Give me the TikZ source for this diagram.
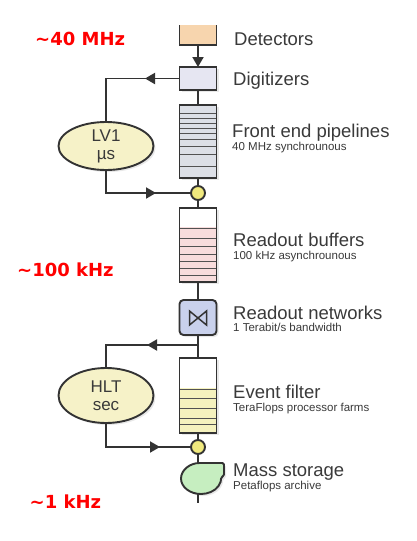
\documentclass[tikz,border=0pt]{standalone}
\usepackage{fontspec}
\setmainfont{Liberation Sans}
\newfontfamily\redfont{DejaVu Sans}
\usetikzlibrary{arrows.meta,shadows,shapes.geometric}
\definecolor{ln}{HTML}{333333}
\definecolor{txt}{HTML}{3A3A3A}
\definecolor{peach}{HTML}{F7D5AE}
\definecolor{lav}{HTML}{E6E6F2}
\definecolor{pipe}{HTML}{DCDFE6}
\definecolor{pink}{HTML}{F8DCDC}
\definecolor{netblue}{HTML}{C9D1EC}
\definecolor{yel}{HTML}{F5F2BE}
\definecolor{ell}{HTML}{F6F2C8}
\definecolor{dot}{HTML}{F1EA7E}
\definecolor{grn}{HTML}{C6EEC0}
\definecolor{redlab}{HTML}{FF0000}
\tikzset{
  box/.style={rectangle, draw=ln, line width=1.9pt, minimum width=37pt, inner sep=0pt, outer sep=0pt,
    drop shadow={shadow xshift=2pt, shadow yshift=-2pt, opacity=0.18}},
  conn/.style={draw=ln, line width=1.9pt},
  tip/.style={draw=ln, line width=1.9pt, -{Triangle[length=10pt,width=11pt]}},
  dotnode/.style={circle, draw=ln, line width=1.9pt, fill=dot, minimum size=14pt, inner sep=0pt, outer sep=0pt},
  ellnode/.style={ellipse, draw=ln, line width=1.9pt, fill=ell, inner sep=0pt, outer sep=0pt, text=txt,
    align=center, font=\fontsize{17}{18}\selectfont,
    drop shadow={shadow xshift=2pt, shadow yshift=-2pt, opacity=0.18}},
  mainlab/.style={anchor=base west, inner sep=0pt, text=txt, font=\fontsize{18.5}{20}\selectfont},
  sublab/.style={anchor=base west, inner sep=0pt, text=txt, font=\fontsize{11.5}{13}\selectfont},
  redl/.style={anchor=base west, inner sep=0pt, text=redlab, font=\redfont\bfseries\fontsize{18}{20}\selectfont},
  stripe/.style={draw=ln!85, line width=1pt}
}
\begin{document}
\begin{tikzpicture}[x=1pt,y=-1pt]
\useasboundingbox[fill=white] (0,0) rectangle (416,541);

% ---- column ----
\node[rectangle, fill=peach, minimum width=37pt, minimum height=20pt, inner sep=0pt, outer sep=0pt] (det) at (198,35) {};
\draw[conn] (det.north west) -- (det.south west) -- (det.south east) -- (det.north east);

\node[box, fill=lav, minimum height=23pt] (digi) at (198,78.5) {};

\node[box, fill=pipe, minimum height=73pt] (pipe) at (198,141.5) {};
\foreach \yy in {113,118,123,128,133,139,146,154,166}
  \draw[stripe] (pipe.west |- 0,\yy) -- (pipe.east |- 0,\yy);
\draw[conn] (pipe.north west) rectangle (pipe.south east);

\node[dotnode] (c1) at (198,193) {};

\node[box, fill=white, minimum height=74pt] (buf) at (198,245) {};
\fill[pink] (buf.west |- 0,227) rectangle (buf.south east);
\foreach \yy in {228,238,246,254,261,268,275}
  \draw[stripe] (buf.west |- 0,\yy) -- (buf.east |- 0,\yy);
\draw[conn] (buf.north west) rectangle (buf.south east);

\node[box, fill=netblue, minimum height=35pt, rounded corners=4pt] (net) at (198,317.5) {};
\draw[conn, line width=1.5pt] (189.5,311) -- (189.5,325) -- (206.5,311) -- (206.5,325) -- cycle;

\node[box, fill=white, minimum height=75pt] (ef) at (198,395.5) {};
\fill[yel] (ef.west |- 0,388) rectangle (ef.south east);
\foreach \yy in {389,398,408,418,424}
  \draw[stripe] (ef.west |- 0,\yy) -- (ef.east |- 0,\yy);
\draw[conn] (ef.north west) rectangle (ef.south east);

\node[dotnode] (c2) at (198,447) {};

% mass storage
\coordinate (mstop) at (198,463);
\coordinate (msbot) at (198,493);
\coordinate (msend) at (198,503);
\draw[conn, fill=grn, rounded corners=1.5pt, drop shadow={shadow xshift=2pt, shadow yshift=-2pt, opacity=0.18}]
  (224,463) -- (201,463) arc[start angle=270, end angle=-5, x radius=20, y radius=15.5]
  -- (224,476) -- cycle;

% vertical connectors
\draw[tip] (det.south) -- (digi.north);
\draw[conn] (digi.south) -- (pipe.north);
\draw[conn] (pipe.south) -- (c1.north);
\draw[conn] (c1.south) -- (buf.north);
\draw[conn] (buf.south) -- (net.north);
\draw[conn] (net.south) -- (ef.north);
\draw[conn] (ef.south) -- (c2.north);
\draw[conn] (c2.south) -- (mstop);
\draw[conn] (msbot) -- (msend);

% LV1 loop
\node[ellnode, minimum width=95pt, minimum height=48pt] (lv1) at (106,146) {LV1\\µs};
\coordinate (t1) at (145,78.5);
\coordinate (t2) at (156,193);
\draw[conn] (digi.west) -| (lv1.north);
\draw[tip] (digi.west) -- (t1);
\draw[conn] (lv1.south) |- (c1.west);
\draw[tip] (lv1.south |- c1) -- (t2);

% HLT loop
\coordinate (j1) at (198,345);
\node[ellnode, minimum width=95pt, minimum height=55pt] (hlt) at (106,395.5) {HLT\\sec};
\coordinate (t3) at (147,345);
\coordinate (t4) at (160,447);
\draw[conn] (j1) -| (hlt.north);
\draw[tip] (j1) -- (t3);
\draw[conn] (hlt.south) |- (c2.west);
\draw[tip] (hlt.south |- c2) -- (t4);

% labels
\node[mainlab] (ldet) at (234,45) {Detectors};
\node[mainlab] (ldig) at (233,85) {Digitizers};
\node[mainlab] (lfe) at (232,137) {Front end pipelines};
\node[sublab] (lfes) at (232,150) {40 MHz synchrounous};
\node[mainlab] (lrb) at (233,246.7) {Readout buffers};
\node[sublab] (lrbs) at (233,259.3) {100 kHz asynchrounous};
\node[mainlab] (lrn) at (233,319.3) {Readout networks};
\node[sublab] (lrns) at (233,331.5) {1 Terabit/s bandwidth};
\node[mainlab] (lef) at (233,398.3) {Event filter};
\node[sublab] (lefs) at (233,411.7) {TeraFlops processor farms};
\node[mainlab] (lms) at (233,476) {Mass storage};
\node[sublab] (lmss) at (233,489.3) {Petaflops archive};

\node[redl] (r1) at (35,45) {\textasciitilde40 MHz};
\node[redl] (r2) at (17,276) {\textasciitilde100 kHz};
\node[redl] (r3) at (29.5,508.3) {\textasciitilde1 kHz};
\end{tikzpicture}
\end{document}
